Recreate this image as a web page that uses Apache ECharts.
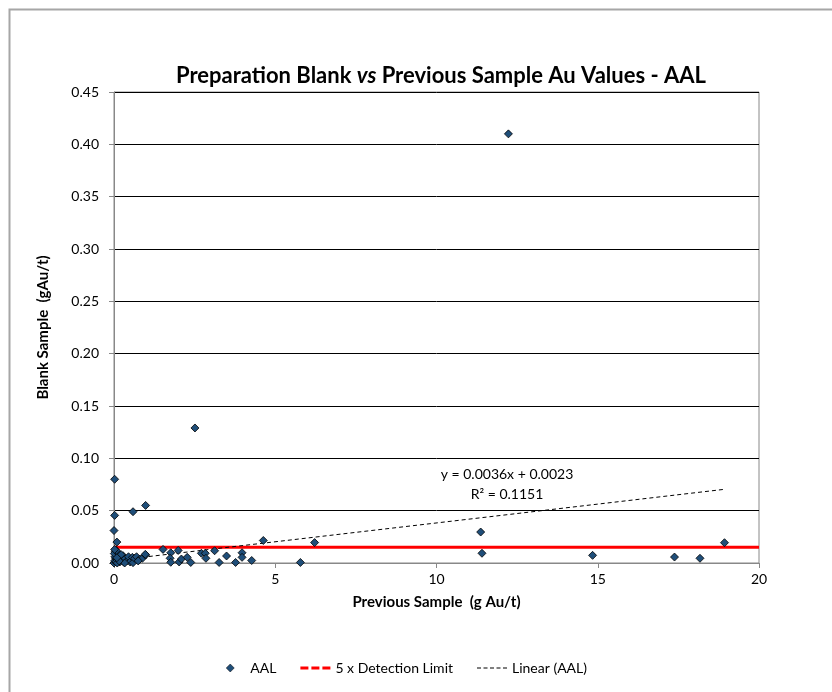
<!DOCTYPE html>
<html><head><meta charset="utf-8">
<script src="https://cdn.jsdelivr.net/npm/echarts@6/dist/echarts.min.js"></script>
<style>html,body{margin:0;padding:0;background:#fff}#c{width:832px;height:692px}</style>
</head><body><div id="c"></div>
<script>
// AAL: previous sample Au (g/t) vs blank sample Au (g/t)
const aalX = [0.00,0.02,0.05,0.03,0.08,0.10,0.04,0.12,0.15,0.18,0.20,0.06,0.10,0.25,0.28,0.30,0.35,0.01,0.14,0.22,0.07,0.40,0.45,0.50,0.33,0.16,0.09,0.02,
  0.57,0.59,0.64,0.70,0.80,0.88,0.98,0.97,0.75,
  0.02,0.02,0.00,0.09,0.59,0.98,2.51,12.23,
  1.52,1.76,1.99,1.74,1.76,2.02,2.09,2.27,2.38,2.71,2.83,2.85,3.12,3.26,3.49,3.77,3.97,3.97,4.27,4.63,5.78,6.22,
  11.37,11.41,14.84,17.38,18.17,18.93];
const aalY = [0.000,0.002,0.004,0.006,0.008,0.010,0.011,0.003,0.006,0.001,0.005,0.001,0.000,0.003,0.007,0.001,0.004,0.009,0.009,0.008,0.012,0.002,0.006,0.001,0.000,0.002,0.005,0.013,
  0.0054,0.0003,0.0045,0.006,0.0038,0.0045,0.0076,0.0083,0.002,
  0.080,0.0455,0.031,0.020,0.049,0.055,0.129,0.410,
  0.013,0.0098,0.012,0.0045,0.0007,0.001,0.0038,0.0054,0.0005,0.0093,0.0093,0.0045,0.0117,0.0005,0.0067,0.0005,0.0098,0.0054,0.0024,0.0215,0.0005,0.0195,
  0.0296,0.0093,0.0073,0.0057,0.0045,0.0194];
// 5 x detection limit
const limitX = [0, 20];
const limitY = [0.015, 0.015];
// Linear trend (AAL): y = 0.0036x + 0.0023
const trendX = [0.0, 18.93];
const trendY = [0.0023, 0.0704];
const trendLabel = ['y = 0.0036x + 0.0023', 'R² = 0.1151'];
const xTicks = [0, 5, 10, 15, 20];
const yTicks = [0, 0.05, 0.10, 0.15, 0.20, 0.25, 0.30, 0.35, 0.40, 0.45];

const FONT = 'Lato, "Open Sans", sans-serif';
const chart = echarts.init(document.getElementById('c'), null, {renderer: 'canvas'});
const zip = (a, b) => a.map((v, i) => [v, b[i]]);
chart.setOption({
  animation: false,
  backgroundColor: '#fff',
  title: {
    text: 'Preparation Blank {i|vs} Previous Sample Au Values - AAL',
    left: 436, top: 60, textAlign: 'center',
    textStyle: {fontFamily: FONT, fontSize: 22, fontWeight: 'bold', color: '#000',
      rich: {i: {fontFamily: FONT, fontSize: 22, fontWeight: 'bold', fontStyle: 'italic', color: '#000'}}}
  },
  grid: {left: 114, right: 73, top: 92, bottom: 129, show: true, borderColor: '#888', borderWidth: 1},
  xAxis: {
    type: 'value', min: xTicks[0], max: xTicks[xTicks.length - 1], interval: 5,
    name: 'Previous Sample  (g Au/t)', nameLocation: 'middle', nameGap: 32,
    nameTextStyle: {fontFamily: FONT, fontSize: 15, fontWeight: 'bold', color: '#000'},
    axisLine: {lineStyle: {color: '#888', width: 1}},
    axisTick: {show: true, length: 5, lineStyle: {color: '#888'}},
    axisLabel: {fontFamily: FONT, fontSize: 14, color: '#000', margin: 9},
    splitLine: {show: false}
  },
  yAxis: {
    type: 'value', min: 0, max: yTicks[yTicks.length - 1], interval: 0.05,
    name: 'Blank Sample  (gAu/t)', nameLocation: 'middle', nameGap: 63, nameRotate: 90,
    nameTextStyle: {fontFamily: FONT, fontSize: 15, fontWeight: 'bold', color: '#000'},
    axisLine: {show: true, lineStyle: {color: '#888', width: 1}},
    axisTick: {show: true, length: 5, lineStyle: {color: '#888'}},
    axisLabel: {fontFamily: FONT, fontSize: 14, color: '#000', margin: 15, formatter: v => v.toFixed(2)},
    splitLine: {show: true, lineStyle: {color: '#000', width: 1}}
  },
  legend: {
    bottom: 12, left: 221, itemGap: 24, itemWidth: 30, itemHeight: 8, symbolKeepAspect: true,
    textStyle: {fontFamily: FONT, fontSize: 14, color: '#000'},
    data: [
      {name: 'AAL', icon: 'path://M5,0L10,5L5,10L0,5Z', itemStyle: {color: '#1F4E79', borderColor: '#000', borderWidth: 0.5}},
      {name: '5 x Detection Limit', icon: 'path://M0,0h8v3h-8zM11,0h8v3h-8zM22,0h8v3h-8z', itemStyle: {color: '#ff0000', borderWidth: 0}},
      {name: 'Linear (AAL)', icon: 'path://M0,0h4v1h-4zM6.5,0h4v1h-4zM13,0h4v1h-4zM19.5,0h4v1h-4zM26,0h4v1h-4z', itemStyle: {color: '#000', borderWidth: 0}}
    ]
  },
  series: [
    {
      name: '5 x Detection Limit', type: 'line', data: zip(limitX, limitY), symbol: 'none', z: 2,
      lineStyle: {color: '#ff0000', width: 3}, itemStyle: {color: '#ff0000'}, silent: true
    },
    {
      name: 'Linear (AAL)', type: 'line', data: zip(trendX, trendY), symbol: 'none', z: 3,
      lineStyle: {color: '#000', width: 1, type: [4, 3]}, itemStyle: {color: '#000'}, silent: true
    },
    {
      name: 'AAL', type: 'scatter', data: zip(aalX, aalY), symbol: 'diamond', symbolSize: 8, z: 4,
      itemStyle: {color: '#1F4E79', borderColor: '#000', borderWidth: 0.8, opacity: 1}
    }
  ],
  graphic: [
    {type: 'rect', left: 7, top: 7, shape: {width: 900, height: 800}, style: {fill: 'none', stroke: '#a6a6a6', lineWidth: 2}, silent: true, z: -1},
    {type: 'text', x: 507, y: 464, style: {text: trendLabel.join('\n'), textAlign: 'center', fontFamily: FONT, fontSize: 14, lineHeight: 20, fill: '#000'}}
  ]
});
</script></body></html>
